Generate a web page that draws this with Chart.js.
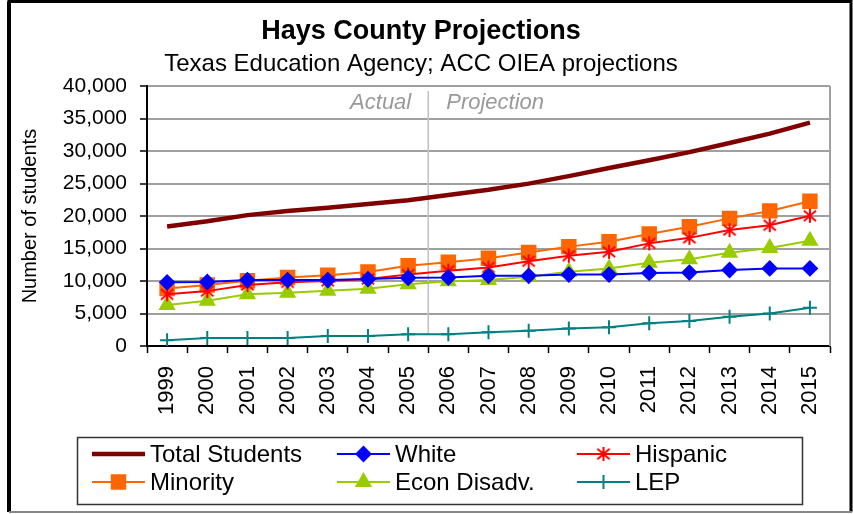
<!DOCTYPE html>
<html>
<head>
<meta charset="utf-8">
<script src="https://cdn.jsdelivr.net/npm/chart.js"></script>
<style>
  html, body { margin: 0; padding: 0; background: #fff; }
  #wrap { width: 853px; height: 514px; }
</style>
</head>
<body>
<div id="wrap"><canvas id="chart" width="853" height="514"></canvas></div>
<script>
// Years on the x axis
const years = ['1999', '2000', '2001', '2002', '2003', '2004', '2005', '2006', '2007',
               '2008', '2009', '2010', '2011', '2012', '2013', '2014', '2015'];

// Series values
const totalStudents = [18400, 19200, 20150, 20800, 21300, 21850, 22450, 23250, 24050,
                       25000, 26150, 27400, 28600, 29850, 31250, 32700, 34400];
const white = [9800, 9850, 10150, 10150, 10150, 10300, 10500, 10550, 10800,
               10800, 11000, 11000, 11250, 11300, 11700, 11950, 11950];
const hispanic = [7950, 8450, 9400, 9800, 10000, 10300, 11000, 11600, 12100,
                  13050, 13900, 14500, 15800, 16650, 17850, 18600, 20050];
const minority = [8850, 9400, 10050, 10550, 10900, 11400, 12350, 12900, 13500,
                  14400, 15300, 16050, 17250, 18350, 19650, 20800, 22300];
const econDisadv = [6300, 6950, 7950, 8200, 8500, 8800, 9500, 9950, 10150,
                    10650, 11450, 11950, 12800, 13350, 14350, 15100, 16200];
const lep = [900, 1250, 1250, 1250, 1550, 1550, 1800, 1800, 2100,
             2350, 2700, 2900, 3500, 3850, 4500, 5000, 5900];

// y axis ticks
const yTicks = [0, 5000, 10000, 15000, 20000, 25000, 30000, 35000, 40000];

// Last actual year / first projected year
const lastActual = '2005';
const firstProjected = '2006';

const FONT = "'Liberation Sans', Arial, sans-serif";

// Excel-style asterisk marker (X plus a vertical bar)
function asterisk(color, size) {
    const c = document.createElement('canvas');
    c.width = size;
    c.height = size;
    const g = c.getContext('2d');
    const m = size / 2, r = size / 2 - 1;
    g.strokeStyle = color;
    g.lineWidth = 2;
    g.beginPath();
    g.moveTo(m, m - r); g.lineTo(m, m + r);
    g.moveTo(m - r * 0.87, m - r * 0.75); g.lineTo(m + r * 0.87, m + r * 0.75);
    g.moveTo(m + r * 0.87, m - r * 0.75); g.lineTo(m - r * 0.87, m + r * 0.75);
    g.stroke();
    return c;
}

function series(label, data, color, style, radius, width) {
    return {
        label: label,
        data: data,
        borderColor: color,
        backgroundColor: color,
        borderWidth: width,
        pointStyle: style,
        pointRadius: radius,
        pointHoverRadius: radius,
        pointBorderWidth: 2,
        pointBackgroundColor: color,
        pointBorderColor: color,
        tension: 0
    };
}

const starMark = asterisk('#ff0000', 16);

const datasets = [
    series('Total Students', totalStudents, '#800000', false, 0, 4.5),
    series('White', white, '#0000ff', 'rectRot', 7, 2),
    series('Hispanic', hispanic, '#ff0000', starMark, 8, 2),
    series('Minority', minority, '#ff6600', 'rect', 9.5, 2),
    series('Econ Disadv.', econDisadv, '#99cc00', 'triangle', 8, 2),
    series('LEP', lep, '#008080', 'cross', 7, 2)
];

// Order in the boxed legend, row by row
const legendRows = [
    ['Total Students', 'White', 'Hispanic'],
    ['Minority', 'Econ Disadv.', 'LEP']
];

const decorations = {
    id: 'decorations',
    beforeDraw(chart) {
        const ctx = chart.ctx;
        ctx.save();
        ctx.fillStyle = '#fff';
        ctx.fillRect(0, 0, chart.width, chart.height);
        ctx.restore();
    },
    beforeDatasetsDraw(chart) {
        const {ctx, chartArea, scales} = chart;
        const x = (scales.x.getPixelForValue(years.indexOf(lastActual)) +
                   scales.x.getPixelForValue(years.indexOf(firstProjected))) / 2;
        ctx.save();
        ctx.strokeStyle = '#c0c0c0';
        ctx.lineWidth = 1.5;
        ctx.beginPath();
        ctx.moveTo(x, chartArea.top + 5);
        ctx.lineTo(x, chartArea.bottom - 12);
        ctx.stroke();
        ctx.fillStyle = '#999';
        ctx.font = 'italic 22px ' + FONT;
        ctx.textBaseline = 'middle';
        ctx.textAlign = 'right';
        ctx.fillText('Actual', x - 17, chartArea.top + 17);
        ctx.textAlign = 'left';
        ctx.fillText('Projection', x + 18, chartArea.top + 17);
        ctx.restore();
    },
    afterDraw(chart) {
        const {ctx, chartArea} = chart;
        ctx.save();
        // right edge of the plot frame
        ctx.strokeStyle = '#a0a0a0';
        ctx.lineWidth = 2;
        ctx.beginPath();
        ctx.moveTo(chartArea.right, chartArea.top);
        ctx.lineTo(chartArea.right, chartArea.bottom);
        ctx.stroke();

        // boxed legend
        ctx.strokeStyle = '#333';
        ctx.lineWidth = 1.5;
        ctx.strokeRect(77.5, 437.5, 725, 67);
        const colX = [92, 337, 577];
        const rowY = [454, 482];
        ctx.font = '24px ' + FONT;
        ctx.textBaseline = 'middle';
        ctx.textAlign = 'left';
        legendRows.forEach((row, r) => {
            row.forEach((name, c) => {
                const ds = datasets.find(d => d.label === name);
                const x0 = colX[c], y0 = rowY[r];
                ctx.strokeStyle = ds.borderColor;
                ctx.fillStyle = ds.borderColor;
                ctx.lineWidth = ds.borderWidth;
                ctx.beginPath();
                ctx.moveTo(x0, y0);
                ctx.lineTo(x0 + 53, y0);
                ctx.stroke();
                if (ds.pointStyle && Chart.helpers && Chart.helpers.drawPoint) {
                    ctx.lineWidth = ds.pointBorderWidth;
                    Chart.helpers.drawPoint(ctx, {
                        pointStyle: ds.pointStyle,
                        radius: ds.pointRadius,
                        borderWidth: ds.pointBorderWidth,
                        rotation: 0
                    }, x0 + 26.5, y0);
                }
                ctx.fillStyle = '#000';
                ctx.fillText(name, x0 + 58, y0 + 1);
            });
        });

        // outer frame
        ctx.strokeStyle = '#000';
        ctx.lineWidth = 3;
        ctx.beginPath();
        ctx.moveTo(9, 512);
        ctx.lineTo(9, 1.5);
        ctx.lineTo(851, 1.5);
        ctx.lineTo(851, 512);
        ctx.stroke();
        ctx.lineWidth = 4;
        ctx.beginPath();
        ctx.moveTo(9, 1.5);
        ctx.lineTo(9, 512);
        ctx.stroke();
        ctx.strokeStyle = '#888';
        ctx.lineWidth = 2;
        ctx.beginPath();
        ctx.moveTo(9, 512);
        ctx.lineTo(852, 512);
        ctx.stroke();
        ctx.restore();
    }
};

new Chart(document.getElementById('chart'), {
    type: 'line',
    data: { labels: years, datasets: datasets },
    options: {
        responsive: false,
        animation: false,
        events: [],
        layout: { padding: { left: 12, right: 23, top: 0, bottom: 88 } },
        plugins: {
            legend: { display: false },
            tooltip: { enabled: false },
            title: {
                display: true,
                text: 'Hays County Projections',
                color: '#000',
                font: { family: FONT, size: 27, weight: 'bold' },
                padding: { top: 15, bottom: 3 }
            },
            subtitle: {
                display: true,
                text: 'Texas Education Agency; ACC OIEA projections',
                color: '#000',
                font: { family: FONT, size: 24 },
                padding: { top: 0, bottom: 7 }
            }
        },
        scales: {
            x: {
                type: 'category',
                offset: true,
                afterFit(scale) { scale.height = 80; },
                grid: {
                    offset: true,
                    drawOnChartArea: false,
                    drawTicks: true,
                    tickLength: 7,
                    tickColor: '#000',
                    tickWidth: 1.5
                },
                border: { display: true, color: '#000', width: 2 },
                ticks: {
                    color: '#000',
                    font: { family: FONT, size: 22 },
                    minRotation: 90,
                    maxRotation: 90,
                    autoSkip: false,
                    padding: 13
                }
            },
            y: {
                min: 0,
                max: 40000,
                afterFit(scale) { scale.width = 135; },
                afterBuildTicks(scale) { scale.ticks = yTicks.map(v => ({ value: v })); },
                grid: {
                    color: '#a0a0a0',
                    lineWidth: 2,
                    tickLength: 7,
                    tickColor: '#000',
                    tickWidth: 1.5
                },
                border: { display: true, color: '#000', width: 2 },
                ticks: {
                    color: '#000',
                    font: { family: FONT, size: 21 },
                    padding: 13,
                    callback: v => v.toLocaleString('en-US')
                },
                title: {
                    display: true,
                    text: 'Number of students',
                    color: '#000',
                    font: { family: FONT, size: 20 },
                    padding: { top: 6, bottom: 0 }
                }
            }
        }
    },
    plugins: [decorations]
});
</script>
</body>
</html>
